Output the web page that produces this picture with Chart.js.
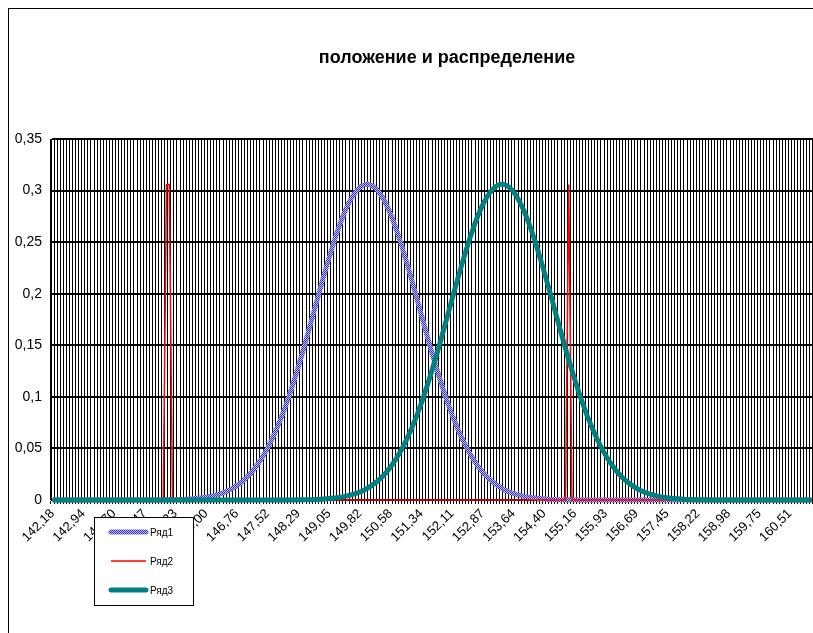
<!DOCTYPE html>
<html>
<head>
<meta charset="utf-8">
<script src="https://cdn.jsdelivr.net/npm/chart.js@4/dist/chart.umd.min.js"></script>
<style>
  html, body { margin: 0; padding: 0; background: #fff; overflow: hidden; }
  canvas { display: block; }
</style>
</head>
<body>
<canvas id="chart" width="813" height="633"></canvas>
<script>
// ---- chart text ----
const chartTitle = 'положение и распределение';
const seriesNames = ['Ряд1', 'Ряд2', 'Ряд3'];

// ---- axis labels ----
const xTickLabels = ['142,18', '142,94', '143,70', '144,47', '145,23', '146,00', '146,76', '147,52',
  '148,29', '149,05', '149,82', '150,58', '151,34', '152,11', '152,87', '153,64', '154,40',
  '155,16', '155,93', '156,69', '157,45', '158,22', '158,98', '159,75', '160,51'];
const yTickLabels = ['0', '0,05', '0,1', '0,15', '0,2', '0,25', '0,3', '0,35'];

// category grid of the x axis: first value, spacing, number of categories, label every Nth
const categoryStart = 142.178;
const categoryStep = 0.07638;
const categoryCount = 248;
const labelEvery = 10;

// ---- series: Ряд1 (distribution around 150) ----
const row1X = [142.18, 144.5, 145, 145.5,
  146, 146.25, 146.5, 146.75, 147, 147.25, 147.5, 147.75, 148, 148.25, 148.5, 148.75,
  149, 149.25, 149.5, 149.75, 150, 150.25, 150.5, 150.75, 151, 151.25, 151.5, 151.75,
  152, 152.25, 152.5, 152.75, 153, 153.25, 153.5, 153.75, 154,
  154.5, 155, 155.5, 161.05];
const row1Y = [0, 0, 0.0002, 0.0008,
  0.0028, 0.0049, 0.0083, 0.0137, 0.0216, 0.0330, 0.0486, 0.0690, 0.0943, 0.1243, 0.1578, 0.1933,
  0.2280, 0.2594, 0.2844, 0.3005, 0.3061, 0.3005, 0.2844, 0.2594, 0.2280, 0.1933, 0.1578, 0.1243,
  0.0943, 0.0690, 0.0486, 0.0330, 0.0216, 0.0137, 0.0083, 0.0049, 0.0028,
  0.0008, 0.0002, 0, 0];

// ---- series: Ряд2 (limit markers at 145 and 155) ----
const row2X = [142.18, 144.93, 145.01, 145.08, 145.16, 154.93, 155.01, 155.09, 161.05];
const row2Y = [0, 0, 0.306, 0.306, 0, 0, 0.306, 0, 0];

// ---- series: Ряд3 (shifted distribution) ----
const row3X = [142.18, 147.85, 148.35, 148.85,
  149.35, 149.6, 149.85, 150.1, 150.35, 150.6, 150.85, 151.1, 151.35, 151.6, 151.85, 152.1,
  152.35, 152.6, 152.85, 153.1, 153.35, 153.6, 153.85, 154.1, 154.35, 154.6, 154.85, 155.1,
  155.35, 155.6, 155.85, 156.1, 156.35, 156.6, 156.85, 157.1, 157.35,
  157.85, 158.35, 158.85, 161.05];
const row3Y = [0, 0, 0.0002, 0.0008,
  0.0028, 0.0049, 0.0083, 0.0137, 0.0216, 0.0330, 0.0486, 0.0690, 0.0943, 0.1243, 0.1578, 0.1933,
  0.2280, 0.2594, 0.2844, 0.3005, 0.3061, 0.3005, 0.2844, 0.2594, 0.2280, 0.1933, 0.1578, 0.1243,
  0.0943, 0.0690, 0.0486, 0.0330, 0.0216, 0.0137, 0.0083, 0.0049, 0.0028,
  0.0008, 0.0002, 0, 0];

const pairs = (xs, ys) => xs.map((x, i) => ({ x, y: ys[i] }));

const FONT = "'Liberation Sans', Arial, sans-serif";
const canvas = document.getElementById('chart');
const ctx = canvas.getContext('2d');

// checkered blue stroke used for Ряд1
function checkerPattern() {
  const c = document.createElement('canvas');
  c.width = 2; c.height = 2;
  const g = c.getContext('2d');
  g.fillStyle = '#b8b8ea';
  g.fillRect(0, 0, 2, 2);
  g.fillStyle = '#3a3abc';
  g.fillRect(0, 0, 1, 1);
  g.fillRect(1, 1, 1, 1);
  return ctx.createPattern(c, 'repeat');
}

// white page, outer frame and title
const frameAndTitle = {
  id: 'frameAndTitle',
  beforeDraw(chart) {
    const c = chart.ctx;
    c.save();
    c.fillStyle = '#fff';
    c.fillRect(0, 0, chart.width, chart.height);
    c.strokeStyle = '#000';
    c.lineWidth = 1;
    c.strokeRect(8.5, 8.5, 1000, 1000);
    c.fillStyle = '#000';
    c.font = 'bold 18px ' + FONT;
    c.textAlign = 'center';
    c.textBaseline = 'middle';
    c.fillText(chartTitle, 447, 58);
    c.restore();
  }
};

// boxed legend placed over the lower left of the axis labels
const legendBox = {
  id: 'legendBox',
  afterDraw(chart) {
    const c = chart.ctx;
    const rows = [532, 561, 590];
    c.save();
    c.fillStyle = '#fff';
    c.fillRect(94.5, 517.5, 99, 88);
    c.strokeStyle = '#000';
    c.lineWidth = 1;
    c.strokeRect(94.5, 517.5, 99, 88);
    chart.data.datasets.forEach((ds, i) => {
      const y = rows[i];
      c.beginPath();
      c.moveTo(111, y);
      c.lineTo(146, y);
      c.strokeStyle = ds.borderColor;
      c.lineWidth = ds.borderWidth;
      c.lineCap = ds.borderWidth > 2 ? 'round' : 'butt';
      c.stroke();
      c.fillStyle = '#000';
      c.font = '10px ' + FONT;
      c.textAlign = 'left';
      c.textBaseline = 'middle';
      c.fillText(ds.label, 150, y + 1.5);
    });
    c.restore();
  }
};

new Chart(ctx, {
  type: 'line',
  data: {
    datasets: [
      {
        label: seriesNames[0],
        data: pairs(row1X, row1Y),
        borderColor: checkerPattern(),
        borderWidth: 5,
        pointRadius: 0,
        cubicInterpolationMode: 'monotone',
        clip: false,
        order: 3
      },
      {
        label: seriesNames[1],
        data: pairs(row2X, row2Y),
        borderColor: '#ff0000',
        borderWidth: 1.5,
        pointRadius: 0,
        tension: 0,
        clip: false,
        order: 2
      },
      {
        label: seriesNames[2],
        data: pairs(row3X, row3Y),
        borderColor: '#008080',
        borderWidth: 5,
        pointRadius: 0,
        cubicInterpolationMode: 'monotone',
        clip: false,
        order: 1
      }
    ]
  },
  options: {
    responsive: false,
    animation: false,
    events: [],
    layout: { padding: { top: 139, right: 0, bottom: 0, left: 0 } },
    plugins: {
      legend: { display: false },
      title: { display: false },
      tooltip: { enabled: false }
    },
    scales: {
      x: {
        type: 'linear',
        bounds: 'data',
        min: categoryStart - categoryStep / 2,
        max: categoryStart + (categoryCount - 0.5) * categoryStep,
        afterBuildTicks(scale) {
          scale.ticks = Array.from({ length: categoryCount },
            (_, k) => ({ value: categoryStart + k * categoryStep }));
        },
        afterFit(scale) {
          scale.height = 133;
          scale.paddingLeft = 0;
          scale.paddingRight = 0;
        },
        grid: {
          offset: true,
          color: '#000',
          lineWidth: 1,
          drawTicks: true,
          tickLength: 4,
          tickColor: '#000'
        },
        border: { display: true, color: '#000', width: 1 },
        ticks: {
          autoSkip: false,
          minRotation: 45,
          maxRotation: 45,
          padding: 2,
          color: '#000',
          font: { family: FONT, size: 13 },
          callback: (v, i) => (i % labelEvery === 0 ? (xTickLabels[i / labelEvery] || '') : '')
        }
      },
      y: {
        min: 0,
        max: 0.35,
        afterFit(scale) { scale.width = 51; },
        grid: {
          color: '#000',
          lineWidth: 2,
          drawTicks: false
        },
        border: { display: true, color: '#000', width: 1 },
        ticks: {
          stepSize: 0.05,
          padding: 9,
          color: '#000',
          font: { family: FONT, size: 14 },
          callback: (v, i) => yTickLabels[i]
        }
      }
    }
  },
  plugins: [frameAndTitle, legendBox]
});
</script>
</body>
</html>
